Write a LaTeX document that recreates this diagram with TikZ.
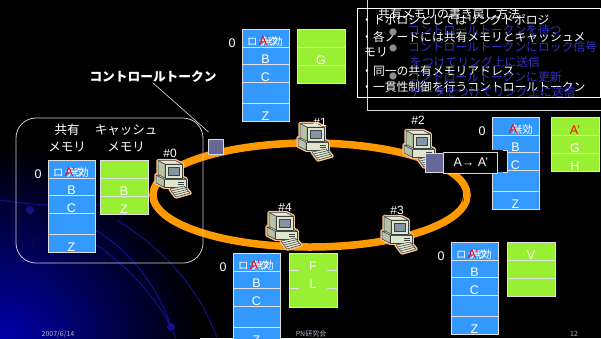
\documentclass[tikz,border=0pt]{standalone}
\usepackage{fontspec}
\setmainfont{Liberation Sans}
\newfontfamily\jp{Noto Sans CJK JP}
\usetikzlibrary{positioning}

\definecolor{memblue}{RGB}{51,153,255}
\definecolor{cachegreen}{RGB}{153,240,51}
\definecolor{ringorange}{RGB}{255,153,0}
\definecolor{tokencol}{RGB}{104,104,152}
\definecolor{inkblue}{RGB}{48,48,200}
\definecolor{pcbody}{RGB}{222,230,206}
\definecolor{pcside}{RGB}{184,194,166}
\definecolor{pcscreen}{RGB}{132,148,165}
\definecolor{pcglow}{RGB}{242,196,142}
\definecolor{swirl}{RGB}{18,18,140}
\definecolor{deepblue}{RGB}{0,0,175}
\definecolor{footer}{RGB}{176,176,210}

\tikzset{
  cellline/.style={draw=white!88!black, line width=0.6pt},
  celltext/.style={text=white, inner sep=0pt, font=\fontsize{12.5}{14}\selectfont},
  jpcell/.style={text=white, inner sep=0pt, font=\jp\fontsize{10.5}{12}\selectfont},
  primecell/.style={text=red, inner sep=0pt, font=\fontsize{12.5}{14}\selectfont},
  pclabel/.style={text=white, inner sep=0pt, font=\fontsize{12}{14}\selectfont},
  token/.style={draw=white!85!black, fill=tokencol, line width=0.8pt, inner sep=0pt},
  boxline/.style={text=white, anchor=west, inner sep=0pt, font=\jp\fontsize{11.8}{14}\selectfont},
  stepline/.style={text=inkblue, anchor=west, inner sep=0pt, font=\jp\fontsize{11.8}{14}\selectfont},
  dotmark/.style={text=black!45, inner sep=0pt, font=\jp\fontsize{8}{9}\selectfont},
  footnote/.style={text=footer, inner sep=0pt, font=\jp\fontsize{7}{8}\selectfont},
  pcline/.style={draw=black!75, line width=0.5pt},
  % small desktop PC
  computer/.pic={
    \begin{scope}[shift={(-3,2)}, line join=round]
      \filldraw[pcglow, line width=3.5pt] (-14,-6) -- (-14,2) -- (-6,6) -- (16,6) -- (16,-2) -- (12,-4)
        -- (12,-17) -- (5,-20.5) -- (-12,-20.5) -- (-12,-6.5) -- cycle;
      \filldraw[pcglow, line width=3.5pt] (0,8) -- (14,5) -- (20,12) -- (6,16) -- cycle;
      % base unit
      \filldraw[pcline, fill=pcside] (-6,-2) -- (-6,6) -- (-14,2) -- (-14,-6) -- cycle;
      \filldraw[pcline, fill=pcbody] (-6,-2) rectangle (16,6);
      \filldraw[pcline, fill=pcbody!80!white] (-6,-2) -- (16,-2) -- (8,-6) -- (-14,-6) -- cycle;
      \draw[pcline] (8,1) -- (14,1) (8,3) -- (14,3);
      % monitor
      \filldraw[pcline, fill=pcside] (-5,-17) -- (-5,-3) -- (-12,-6.5) -- (-12,-20.5) -- cycle;
      \filldraw[pcline, fill=pcbody!80!white] (-5,-17) -- (12,-17) -- (5,-20.5) -- (-12,-20.5) -- cycle;
      \filldraw[pcline, fill=pcbody] (-5,-17) rectangle (12,-3);
      \filldraw[pcline, fill=pcscreen] (-2,-14) rectangle (9,-5.5);
      % keyboard
      \filldraw[pcline, fill=pcbody] (0,8) -- (14,5) -- (20,12) -- (6,16) -- cycle;
      \draw[pcline] (1.5,10) -- (15.5,6.75) (3,12) -- (17,8.5) (4.5,14) -- (18.5,10.25);
    \end{scope}}
}

% shared memory column: name, x, y of top left, extra text of first row
\newcommand\sharedmem[4]{%
  \begin{scope}[shift={(#2,#3)}]
    \fill[memblue] (0,0) rectangle (47,92);
    \draw[cellline] (0,0) rectangle (47,92)
      (0,18) -- (47,18) (0,35) -- (47,35) (0,53) -- (47,53) (0,74) -- (47,74);
    \node[celltext] (#1addr) at (-10,14) {0};
    \node[jpcell, anchor=west] (#1lock) at (5,13) {#4};
    \node[jpcell, anchor=east] (#1inv) at (41,13) {無効};
    \node[primecell] (#1top) at (22,12) {A’};
    \node[celltext] (#1b) at (23.5,30.5) {B};
    \node[celltext] (#1c) at (23.5,48) {C};
    \node[celltext] (#1z) at (23.5,87) {Z};
  \end{scope}}

% cache memory column: name, x, y of top left, three rows
\newcommand\cachemem[6]{%
  \begin{scope}[shift={(#2,#3)}]
    \fill[cachegreen] (0,0) rectangle (48,54);
    \draw[cellline] (0,0) rectangle (48,54) (0,18) -- (48,18) (0,36) -- (48,36);
    \node[celltext] (#1r1) at (24,13) {#4};
    \node[celltext] (#1r2) at (24,31) {#5};
    \node[celltext] (#1r3) at (24,49) {#6};
  \end{scope}}

\begin{document}
\begin{tikzpicture}[x=1pt, y=-1pt]
\useasboundingbox (0,0) rectangle (601,338);
\fill[black] (0,0) rectangle (601,338);

% background swirl
\begin{scope}
\clip (0,0) rectangle (601,338);
\shade[inner color=deepblue, outer color=black] (0,345) circle (200pt);
\draw[swirl, line width=1pt] (0,200) .. controls (30,205) and (70,207) .. (100,205);
\draw[swirl, line width=1pt] (95,230) .. controls (130,250) and (160,290) .. (171,327) -- (176,338);
\draw[swirl, line width=1pt] (97,245) .. controls (125,265) and (155,295) .. (171,327);
\draw[swirl, line width=1pt] (117,220) .. controls (165,250) and (200,290) .. (217,338);
\fill[swirl] (171,327) circle (4pt);
\fill[swirl] (30,210) circle (4pt);
\end{scope}
\node[text=swirl!60!black, font=\itshape\fontsize{10}{12}\selectfont] (nm1) at (25,243) {n − 1};

% ring network
\coordinate (ringc) at (310,195);
\draw[ringorange, line width=7.5pt] (ringc) ellipse (157pt and 52pt);
\node[text=black!70!orange, font=\itshape\fontsize{8}{9}\selectfont] (nlbl) at (462,200) {n};

% node #0 with its memories
\draw[white!80!black, line width=0.8pt, rounded corners=20pt] (16,118) rectangle (203,263);
\node[text=white, align=center, font=\jp\fontsize{12.5}{17}\selectfont] (shhead) at (67,138) {共有\\メモリ};
\node[text=white, align=center, font=\jp\fontsize{12.5}{17}\selectfont] (cahead) at (126,138) {キャッシュ\\メモリ};

\pic (pc0) at (173,179) {computer};
\pic (pc1) at (315,142) {computer};
\pic (pc2) at (421,149) {computer};
\pic (pc3) at (399,235) {computer};
\pic (pc4) at (284,231) {computer};
\node[pclabel] (lbl0) at (170,153) {\#0};
\node[pclabel] (lbl1) at (320,122) {\#1};
\node[pclabel] (lbl2) at (418,120) {\#2};
\node[pclabel] (lbl3) at (397,210) {\#3};
\node[pclabel] (lbl4) at (285,207) {\#4};

\sharedmem{m0}{48}{160}{ロック}
\cachemem{c0}{100}{160}{}{B}{Z}
\sharedmem{m1}{242}{29}{ロック}
\cachemem{c1}{297}{29}{}{G}{}
\sharedmem{m2}{492}{117}{}
\cachemem{c2}{551}{117}{\color{red}A’}{G}{H}
\sharedmem{m3}{451}{242}{ロック}
\cachemem{c3}{507}{242}{V}{}{}
\sharedmem{m4}{233}{253}{ロック}

% cache of #4
\fill[cachegreen] (289,253) rectangle (337,307);
\draw[cellline] (289,253) rectangle (337,307);
\draw[cellline, dash pattern=on 10pt off 28pt] (289,270) -- (337,270) (289,288) -- (337,288);
\node[celltext] (c4r1) at (313,266) {F};
\node[celltext] (c4r2) at (313,284) {L};

% control token
\node[token, minimum width=15pt, minimum height=15pt] (tok0) at (216,146.5) {};
\node[text=white, font=\jp\bfseries\fontsize{12.7}{14}\selectfont, inner sep=0pt] (toklabel) at (153,77) {コントロールトークン};
\draw[white!90!black, line width=0.6pt, shorten >=10pt] (toklabel.south) -- (tok0.north);

% token carrying the update at #2
\fill[black] (443,150) rectangle (507,172);
\draw[white!85!black, line width=0.8pt] (503,150) -- (507,150) -- (507,172) -- (503,172);
\node[token, minimum width=18pt, minimum height=19pt] (tok2) at (434,162.5) {};
\node[draw=white!85!black, fill=black, line width=0.8pt, minimum width=54pt, minimum height=21pt,
  inner sep=0pt, text=white, font=\fontsize{12.5}{14}\selectfont, right=0pt of tok2] (upd) {A→ A’};

% text box
\draw[white!85!black, line width=0.8pt] (367,-2) -- (367,110) -- (603,110);
\draw[white, line width=0.8pt] (357,8) rectangle (600,97);
\node[boxline] (t1) at (361,20) {・トポロジとしてはリングトポロジ};
\node[boxline] (t2) at (361,37) {・各ノードには共有メモリとキャッシュメ};
\node[boxline] (t3) at (364,52) {モリ};
\node[boxline] (t4) at (361,71) {・同一の共有メモリアドレス};
\node[boxline] (t5) at (361,87) {・一貫性制御を行うコントロールトークン};
\node[boxline] (title) at (378,14) {共有メモリの書き戻し方法};
\node[dotmark] (d1) at (393,32) {●};
\node[dotmark] (d2) at (393,48) {●};
\node[dotmark] (d3) at (393,76) {●};
\node[stepline] (s1) at (408,30) {コントロールトークンを待つ};
\node[stepline] (s2) at (408,47) {コントロールトークンにロック信号};
\node[stepline] (s3) at (410,62) {をつけてリング上に送信};
\node[stepline] (s4) at (408,77) {コントロールトークンに更新};
\node[stepline] (s5) at (410,92) {データをつけてリング上に送信};

% footer
\node[footnote] (date) at (58,334) {2007/6/14};
\node[footnote] (venue) at (311,334) {PN研究会};
\node[footnote] (page) at (574,334) {12};
\end{tikzpicture}
\end{document}
